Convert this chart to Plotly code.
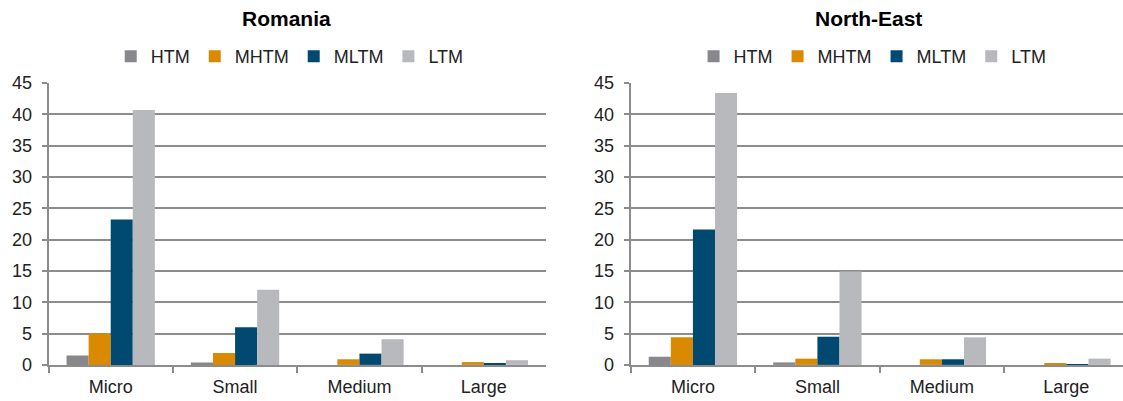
import plotly.graph_objects as go

sizes = ["Micro", "Small", "Medium", "Large"]
series = ["HTM", "MHTM", "MLTM", "LTM"]
colors = ["#87878c", "#d98a00", "#004a72", "#b8b9bd"]

romania = {
    "HTM": [1.5, 0.4, 0.0, 0.0],
    "MHTM": [5.0, 1.9, 0.9, 0.45],
    "MLTM": [23.2, 6.0, 1.8, 0.3],
    "LTM": [40.7, 12.0, 4.1, 0.75],
}
north_east = {
    "HTM": [1.3, 0.4, 0.0, 0.0],
    "MHTM": [4.4, 1.0, 0.9, 0.2],
    "MLTM": [21.6, 4.5, 0.9, 0.1],
    "LTM": [43.4, 14.9, 4.4, 1.0],
}

y_ticks = list(range(0, 50, 5))

fig = go.Figure()
for name, col in zip(series, colors):
    fig.add_trace(go.Bar(x=sizes, y=romania[name], name=name, marker_color=col,
                         marker_line_width=0, xaxis="x", yaxis="y", legend="legend"))
for name, col in zip(series, colors):
    fig.add_trace(go.Bar(x=sizes, y=north_east[name], name=name, marker_color=col,
                         marker_line_width=0, xaxis="x2", yaxis="y2", legend="legend2"))

axis_x = dict(showgrid=False, showline=True, linecolor="#8c8c8c", linewidth=2,
              ticks="outside", tickson="boundaries", ticklen=6, tickcolor="#8c8c8c",
              tickwidth=1.5, ticklabelstandoff=4, tickfont=dict(size=18, color="#222"))
axis_y = dict(range=[0, 45], tickvals=y_ticks, showgrid=True, gridcolor="#8c8c8c",
              gridwidth=1.5, showline=True, linecolor="#8c8c8c", linewidth=2,
              ticks="outside", ticklen=5, tickcolor="#8c8c8c", tickwidth=1.5,
              ticklabelstandoff=6, tickfont=dict(size=18, color="#222"), zeroline=False)

legend_style = dict(orientation="h", xanchor="center", yanchor="middle",
                    font=dict(size=18, color="#222"), itemwidth=30,
                    bgcolor="rgba(0,0,0,0)", tracegroupgap=0)

fig.update_layout(
    width=1123, height=401,
    margin=dict(l=0, r=0, t=0, b=0, autoexpand=False),
    paper_bgcolor="white", plot_bgcolor="white",
    font=dict(family="Liberation Sans, Arial, sans-serif"),
    barmode="group", bargap=0.29, bargroupgap=0,
    xaxis=dict(domain=[0.0432, 0.4862], anchor="y", **axis_x),
    yaxis=dict(domain=[0.09, 0.793], anchor="x", **axis_y),
    xaxis2=dict(domain=[0.5616, 1.0], anchor="y2", range=[-0.5, 3.455], **axis_x),
    yaxis2=dict(domain=[0.09, 0.793], anchor="x2", **axis_y),
    legend=dict(x=0.258, y=0.859, **legend_style),
    legend2=dict(x=0.777, y=0.859, **legend_style),
    annotations=[
        dict(text="<b>Romania</b>", x=0.2547, y=0.954, xref="paper", yref="paper",
             xanchor="center", yanchor="middle", showarrow=False,
             font=dict(size=21, color="black")),
        dict(text="<b>North-East</b>", x=0.773, y=0.954, xref="paper", yref="paper",
             xanchor="center", yanchor="middle", showarrow=False,
             font=dict(size=21, color="black")),
    ],
)

# page has a default 8px body margin, drop it so the figure fills the window
fig.write_html("out.html", config={"displayModeBar": False},
               post_script="document.body.style.margin='0';")
